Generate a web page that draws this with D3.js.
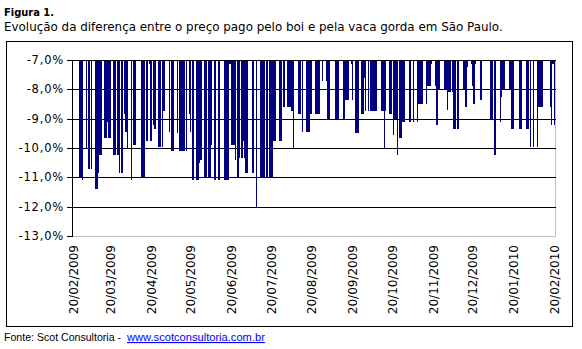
<!DOCTYPE html>
<html><head><meta charset="utf-8">
<script src="https://cdn.jsdelivr.net/npm/d3@7"></script>
<style>
html,body{margin:0;padding:0;background:#fff;}
svg{display:block;font-family:"DejaVu Sans",Verdana,sans-serif;}
</style></head><body>
<svg id="chart" width="582" height="349"></svg>
<script>
const titleBold = "Figura 1.";
const titleText = "Evolução da diferença entre o preço pago pelo boi e pela vaca gorda em São Paulo.";
const sourceText = "Fonte: Scot Consultoria -";
const sourceLink = "www.scotconsultoria.com.br";

const dates = [
"2009-02-25","2009-02-26","2009-02-27","2009-03-02","2009-03-04","2009-03-06","2009-03-09","2009-03-10","2009-03-11","2009-03-12",
"2009-03-13","2009-03-16","2009-03-17","2009-03-18","2009-03-19","2009-03-20","2009-03-23","2009-03-24","2009-03-26","2009-03-27",
"2009-03-29","2009-03-31","2009-04-01","2009-04-02","2009-04-05","2009-04-07","2009-04-08","2009-04-13","2009-04-14","2009-04-15",
"2009-04-17","2009-04-19","2009-04-20","2009-04-22","2009-04-23","2009-04-26","2009-04-27","2009-04-29","2009-04-30","2009-05-04",
"2009-05-06","2009-05-07","2009-05-10","2009-05-12","2009-05-13","2009-05-14","2009-05-15","2009-05-17","2009-05-19","2009-05-20",
"2009-05-22","2009-05-25","2009-05-26","2009-05-27","2009-05-28","2009-05-31","2009-06-01","2009-06-03","2009-06-04","2009-06-05",
"2009-06-07","2009-06-08","2009-06-10","2009-06-11","2009-06-15","2009-06-16","2009-06-17","2009-06-18","2009-06-19","2009-06-20",
"2009-06-21","2009-06-22","2009-06-23","2009-06-25","2009-06-26","2009-06-28","2009-06-29","2009-06-30","2009-07-01","2009-07-02",
"2009-07-06","2009-07-07","2009-07-09","2009-07-12","2009-07-13","2009-07-14","2009-07-15","2009-07-17","2009-07-19","2009-07-20",
"2009-07-21","2009-07-22","2009-07-23","2009-07-27","2009-07-28","2009-07-30","2009-08-02","2009-08-03","2009-08-04","2009-08-05",
"2009-08-06","2009-08-10","2009-08-11","2009-08-13","2009-08-16","2009-08-17","2009-08-18","2009-08-19","2009-08-20","2009-08-23",
"2009-08-24","2009-08-25","2009-08-26","2009-08-28","2009-08-31","2009-09-01","2009-09-02","2009-09-07","2009-09-08","2009-09-09",
"2009-09-13","2009-09-14","2009-09-15","2009-09-16","2009-09-17","2009-09-19","2009-09-20","2009-09-22","2009-09-23","2009-09-24",
"2009-09-27","2009-09-28","2009-09-29","2009-09-30","2009-10-02","2009-10-04","2009-10-05","2009-10-06","2009-10-07","2009-10-08",
"2009-10-12","2009-10-13","2009-10-14","2009-10-15","2009-10-18","2009-10-19","2009-10-21","2009-10-22","2009-10-23","2009-10-24",
"2009-10-26","2009-10-27","2009-10-28","2009-10-29","2009-11-02","2009-11-03","2009-11-05","2009-11-08","2009-11-09","2009-11-10",
"2009-11-11","2009-11-12","2009-11-15","2009-11-16","2009-11-17","2009-11-18","2009-11-19","2009-11-22","2009-11-23","2009-11-24",
"2009-11-25","2009-11-29","2009-11-30","2009-12-01","2009-12-02","2009-12-03","2009-12-05","2009-12-06","2009-12-07","2009-12-09",
"2009-12-13","2009-12-14","2009-12-15","2009-12-16","2009-12-19","2009-12-20","2009-12-21","2009-12-22","2009-12-26","2009-12-27",
"2010-01-03","2010-01-04","2010-01-06","2010-01-10","2010-01-11","2010-01-12","2010-01-13","2010-01-17","2010-01-18","2010-01-19",
"2010-01-20","2010-01-25","2010-01-26","2010-01-30","2010-01-31","2010-02-02","2010-02-04","2010-02-07","2010-02-08","2010-02-09",
"2010-02-10","2010-02-11","2010-02-17","2010-02-18","2010-02-19","2010-02-20"
];
const values = [
-11.0,-11.0,-11.1,-10.0,-10.7,-10.7,-11.4,-11.4,-10.85,-10.25,
-10.25,-9.65,-9.65,-9.1,-9.65,-9.65,-10.25,-10.25,-10.25,-10.85,
-10.85,-8.85,-9.45,-10.0,-11.1,-9.9,-9.9,-11.0,-11.0,-11.0,
-9.75,-7.15,-9.75,-9.2,-9.35,-9.95,-9.95,-9.95,-8.75,-9.45,
-10.1,-10.1,-9.5,-10.1,-10.1,-10.1,-10.1,-10.1,-8.85,-9.45,
-11.1,-11.1,-11.1,-10.5,-10.4,-11.0,-11.0,-11.0,-11.0,-9.9,
-11.1,-11.1,-11.1,-11.1,-11.1,-11.1,-11.1,-11.1,-7.15,-9.9,
-9.9,-9.9,-10.4,-11.0,-10.35,-10.35,-9.75,-10.35,-10.85,-10.85,
-10.85,-10.85,-12.0,-11.0,-11.0,-11.0,-11.0,-11.0,-11.0,-11.0,
-11.0,-9.75,-9.75,-9.75,-9.75,-8.6,-8.6,-8.6,-8.6,-8.75,
-10.0,-8.85,-8.85,-9.45,-9.45,-9.45,-9.45,-8.85,-8.85,-8.85,
-8.85,-8.85,-8.85,-7.7,-7.7,-9.0,-9.0,-9.0,-9.0,-9.0,
-9.0,-9.0,-8.35,-8.35,-8.35,-7.15,-8.35,-9.5,-9.5,-9.5,
-8.85,-8.85,-7.6,-8.75,-8.75,-8.75,-8.75,-8.75,-8.75,-8.75,
-8.75,-8.75,-10.0,-8.75,-8.85,-8.85,-9.55,-9.0,-9.0,-10.25,
-9.65,-9.65,-9.1,-9.1,-9.1,-9.1,-9.1,-9.1,-8.5,-8.5,
-8.5,-8.5,-8.5,-7.9,-7.9,-7.9,-7.15,-7.9,-9.2,-8.0,
-8.0,-8.0,-8.0,-8.7,-8.1,-8.1,-8.1,-9.35,-9.35,-9.35,
-8.0,-8.0,-8.6,-7.25,-7.15,-7.9,-8.5,-7.15,-8.35,-8.35,
-9.0,-9.0,-10.25,-9.1,-8.25,-8.0,-8.0,-8.0,-8.0,-9.35,
-9.35,-9.35,-9.35,-9.35,-9.35,-9.95,-9.95,-9.95,-8.6,-8.6,
-8.6,-8.6,-8.6,-9.2,-7.15,-9.2
];
const xTickLabels = ["20/02/2009","20/03/2009","20/04/2009","20/05/2009","20/06/2009","20/07/2009",
"20/08/2009","20/09/2009","20/10/2009","20/11/2009","20/12/2009","20/01/2010","20/02/2010"];
const yTicks = [-7,-8,-9,-10,-11,-12,-13];
const domainStart = "2009-02-20";
const domainEnd = "2010-02-21";

const parseISO = d3.utcParse("%Y-%m-%d");
const parseLbl = d3.utcParse("%d/%m/%Y");
const fmtLbl = d3.utcFormat("%d/%m/%Y");

const svg = d3.select("#chart");
const L = 72, R = 555, T = 60, B = 236;

const x = d3.scaleUtc().domain([parseISO(domainStart), parseISO(domainEnd)]).range([L + 0.5, R]);
const y = d3.scaleLinear().domain([-13, -7]).range([B, T]).interpolate(d3.interpolateRound);

// fit a text's font size so its natural width equals the target width
function fitText(sel, size, target) {
  sel.attr("font-size", size);
  const w = sel.node().getComputedTextLength();
  if (w > 0) sel.attr("font-size", (size * target / w).toFixed(2));
  return sel;
}

// outer chart border
svg.append("rect").attr("x", 6.5).attr("y", 41.5).attr("width", 566).attr("height", 285)
  .attr("fill", "#fff").attr("stroke", "#000").attr("stroke-width", 1);

// titles
fitText(svg.append("text").attr("x", 4).attr("y", 16).attr("font-weight", "bold")
  .attr("fill", "#000").text(titleBold), 12, 50);
fitText(svg.append("text").attr("x", 4).attr("y", 31)
  .attr("fill", "#000").text(titleText), 11.5, 499);

// plot border (silver)
svg.append("rect").attr("x", L + 0.5).attr("y", T + 0.5).attr("width", R - L).attr("height", B - T)
  .attr("fill", "#fff").attr("stroke", "#c0c0c0").attr("stroke-width", 1).attr("shape-rendering", "crispEdges");

// gridlines
svg.append("g").selectAll("line").data(yTicks.filter(v => v !== -13)).join("line")
  .attr("x1", L).attr("x2", R + 1)
  .attr("y1", d => y(d) + 0.5).attr("y2", d => y(d) + 0.5)
  .attr("stroke", "#000").attr("stroke-width", 1).attr("shape-rendering", "crispEdges");

// bars
const data = dates.map((d, i) => ({date: parseISO(d), value: values[i]}));
svg.append("g").selectAll("rect").data(data).join("rect")
  .attr("x", d => Math.round(x(d.date)))
  .attr("width", d => Math.max(1, Math.round(x(d3.utcDay.offset(d.date, 1))) - Math.round(x(d.date))))
  .attr("y", y(-7))
  .attr("height", d => Math.max(0, y(d.value) - y(-7)))
  .attr("fill", "#000080").attr("shape-rendering", "crispEdges");

// category axis line at -7%
svg.append("line").attr("x1", L).attr("x2", R + 1).attr("y1", y(-7) + 0.5).attr("y2", y(-7) + 0.5)
  .attr("stroke", "#000").attr("shape-rendering", "crispEdges");

// y axis
const yAxis = d3.axisLeft(y).tickValues(yTicks).tickSize(5).tickSizeOuter(0).tickPadding(3)
  .tickFormat(d => d3.format(".1f")(d).replace("−", "-").replace(".", ",") + "%");
const gy = svg.append("g").attr("transform", `translate(${L},0)`).call(yAxis);
gy.selectAll("path,line").attr("stroke", "#000").attr("shape-rendering", "crispEdges");
gy.selectAll("text").attr("font-family", "'DejaVu Sans',Verdana,sans-serif").attr("font-size", 11.5)
  .attr("letter-spacing", "0.8px").attr("fill", "#000");

// x axis labels (bottom, rotated)
const xAxis = d3.axisBottom(x)
  .tickValues(xTickLabels.map(s => d3.utcHour.offset(parseLbl(s), 12)))
  .tickFormat(d => fmtLbl(d)).tickSize(0);
const gx = svg.append("g").attr("transform", `translate(0,${B})`).call(xAxis);
gx.select(".domain").remove();
gx.selectAll("text").attr("font-family", "'DejaVu Sans',Verdana,sans-serif").attr("font-size", 12)
  .attr("fill", "#000").attr("transform", "rotate(-90)")
  .attr("x", -9).attr("y", 0).attr("dy", "0.35em").attr("text-anchor", "end");

// source
fitText(svg.append("text").attr("x", 4).attr("y", 341).attr("font-family", "'Liberation Sans',Arial,sans-serif")
  .attr("fill", "#000").text(sourceText), 11.5, 117);
fitText(svg.append("text").attr("x", 127).attr("y", 341).attr("font-family", "'Liberation Sans',Arial,sans-serif")
  .attr("fill", "#0000ff").attr("text-decoration", "underline").text(sourceLink), 11.5, 138);
</script>
</body></html>
